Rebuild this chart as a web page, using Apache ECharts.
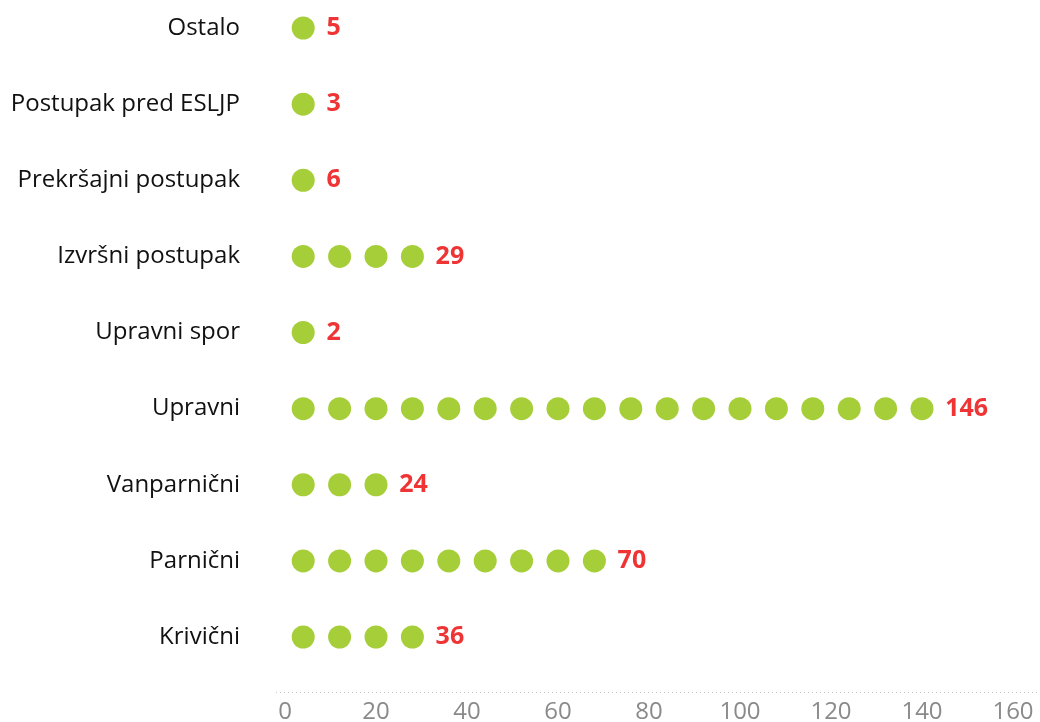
<!DOCTYPE html>
<html>
<head>
<meta charset="utf-8">
<script src="https://cdn.jsdelivr.net/npm/echarts@6/dist/echarts.min.js"></script>
<style>
  html, body { margin: 0; padding: 0; background: #fff; }
  #chart { width: 1040px; height: 722px; }
</style>
</head>
<body>
<div id="chart"></div>
<script>
// top to bottom
const categories = ['Ostalo', 'Postupak pred ESLJP', 'Prekršajni postupak', 'Izvršni postupak',
    'Upravni spor', 'Upravni', 'Vanparnični', 'Parnični', 'Krivični']
const counts = [5, 3, 6, 29, 2, 146, 24, 70, 36]
// dots drawn for each row, as seen in the picture
const dots = [1, 1, 1, 4, 1, 18, 3, 9, 4]
const dotUnit = 8
const xTicks = [0, 20, 40, 60, 80, 100, 120, 140, 160]

let chartDom = document.getElementById('chart')
let myChart = echarts.init(chartDom)

let dotData = counts.map((v, i) => ({
    value: v,
    symbolRepeat: dots[i],
    symbolBoundingData: dots[i] * dotUnit
}))
let labelData = dots.map(d => d * dotUnit)

let option = {
    animation: false,
    grid: {left: 285, right: 27, top: 28, bottom: 85, outerBoundsMode: 'none'},
    // dotted base line runs a bit wider than the plot
    graphic: [{
        type: 'line',
        shape: {x1: 276, y1: 692.5, x2: 1040, y2: 692.5},
        style: {stroke: '#c8c8c8', lineWidth: 1, lineDash: [1, 3]},
        silent: true
    }],
    xAxis: {
        type: 'value',
        min: xTicks[0],
        max: xTicks[xTicks.length - 1],
        interval: 20,
        offset: 55,
        splitLine: {show: false},
        axisTick: {show: false},
        axisLine: {show: false},
        axisLabel: {color: '#8a8a8a', fontSize: 24, fontFamily: 'Open Sans', margin: 8}
    },
    yAxis: {
        type: 'category',
        data: categories,
        inverse: true,
        boundaryGap: false,
        axisLine: {show: false},
        axisTick: {show: false},
        splitLine: {show: false},
        axisLabel: {color: '#111', fontSize: 24, fontFamily: 'Open Sans', margin: 45}
    },
    series: [
        {
            type: 'bar',
            data: labelData,
            barWidth: 24,
            silent: true,
            itemStyle: {color: 'rgba(0,0,0,0)'},
            label: {
                show: true,
                position: 'right',
                distance: 5,
                color: '#ee3434',
                fontWeight: 'bold',
                fontSize: 25,
                fontFamily: 'Open Sans',
                formatter: p => counts[p.dataIndex]
            }
        },
        {
            type: 'pictorialBar',
            data: dotData,
            symbol: 'circle',
            symbolSize: [23, 23],
            symbolMargin: '2!',
            barGap: '-100%',
            itemStyle: {color: '#a6ce39'},
            z: 3
        }
    ]
}

myChart.setOption(option)

window.addEventListener('resize', () => {
    myChart.resize()
})
</script>
</body>
</html>
